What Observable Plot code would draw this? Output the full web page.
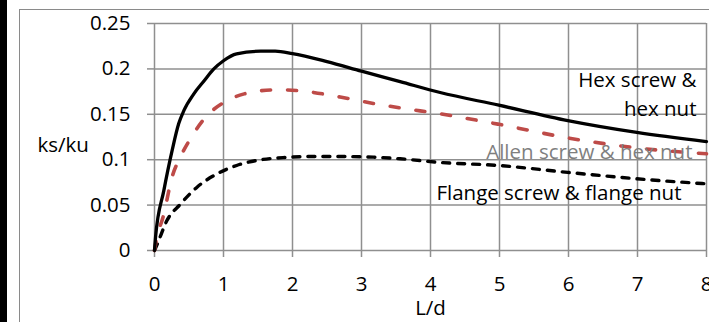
<!DOCTYPE html>
<html>
<head>
<meta charset="utf-8">
<script src="https://cdn.jsdelivr.net/npm/d3@7"></script>
<script src="https://cdn.jsdelivr.net/npm/@observablehq/plot@0.6"></script>
<style>
  html, body { margin: 0; padding: 0; background: #fff; }
  #wrap { position: relative; width: 709px; height: 322px; overflow: hidden; background: #fff; }
  #bar { position: absolute; left: 0; top: 0; width: 7px; height: 322px; background: #000; }
  #frame { position: absolute; left: 19px; top: 9px; width: 700px; height: 330px; border-left: 1.5px solid #8a8a8a; border-top: 1.5px solid #8a8a8a; }
  #chart { position: absolute; left: 0; top: 0; }
</style>
</head>
<body>
<div id="wrap"><div id="bar"></div><div id="frame"></div><div id="chart"></div></div>
<script>
// L/d values and ks/ku for each curve
const hexX    = [0, 0.015, 0.135, 0.255, 0.35, 0.425, 0.57, 0.72, 0.86, 1.0, 1.19, 1.54, 1.75, 2.0, 2.5, 3.0, 3.56, 4.14, 4.99, 5.99, 6.99, 8.0];
const hexY    = [0, 0.0147, 0.066, 0.110, 0.1395, 0.154, 0.1725, 0.187, 0.200, 0.209, 0.2166, 0.2195, 0.2195, 0.2168, 0.208, 0.1975, 0.186, 0.174, 0.16, 0.143, 0.130, 0.120];
const allenX  = [0, 0.015, 0.135, 0.255, 0.375, 0.52, 0.72, 1.05, 1.3, 1.54, 1.83, 2.21, 2.69, 3.17, 3.56, 4.14, 4.99, 5.99, 6.99, 8.0];
const allenY  = [0, 0.007, 0.040, 0.081, 0.103, 0.123, 0.145, 0.165, 0.1725, 0.176, 0.177, 0.175, 0.169, 0.162, 0.157, 0.1505, 0.139, 0.124, 0.113, 0.1065];
const flangeX = [0, 0.04, 0.18, 0.375, 0.62, 0.91, 1.19, 1.54, 1.9, 2.3, 2.7, 3.17, 3.56, 4.14, 4.99, 5.99, 6.99, 8.0];
const flangeY = [0, 0.007, 0.033, 0.051, 0.070, 0.0845, 0.0936, 0.0999, 0.1025, 0.1035, 0.1035, 0.1028, 0.101, 0.097, 0.0936, 0.086, 0.079, 0.0734];

const seriesNames = ["Hex screw &\nhex nut", "Allen screw & hex nut", "Flange screw & flange nut"];
const xTicks = [0, 1, 2, 3, 4, 5, 6, 7, 8];
const yTicks = [0, 0.05, 0.1, 0.15, 0.2, 0.25];
const yTickLabels = ["0", "0.05", "0.1", "0.15", "0.2", "0.25"];

const toRows = (xs, ys, name) => xs.map((x, i) => ({x, y: ys[i], s: name}));
const hex = toRows(hexX, hexY, seriesNames[0]);
const allen = toRows(allenX, allenY, seriesNames[1]);
const flange = toRows(flangeX, flangeY, seriesNames[2]);

const font = "'Open Sans', 'Noto Sans', sans-serif";
const grid = "#8f8f8f";
const fs = 20.5;

const chart = Plot.plot({
  width: 709,
  height: 322,
  marginLeft: 154,
  marginRight: 3,
  marginTop: 23,
  marginBottom: 72,
  style: {fontFamily: font, fontSize: fs + "px", color: "#000", background: "transparent", overflow: "visible"},
  x: {domain: [0, 8], ticks: xTicks},
  y: {domain: [0, 0.25], ticks: yTicks},
  marks: [
    Plot.gridX(xTicks, {stroke: grid, strokeOpacity: 1, strokeWidth: 1.5}),
    Plot.gridY(yTicks, {stroke: grid, strokeOpacity: 1, strokeWidth: 1.5}),
    Plot.axisX(xTicks, {tickSize: 7, tickPadding: 19, stroke: grid, strokeWidth: 1.5, tickFormat: d => String(d), fontSize: fs, label: null}),
    Plot.axisY(yTicks, {tickSize: 7, tickPadding: 17, stroke: grid, strokeWidth: 1.5, tickFormat: (d, i) => yTickLabels[i], fontSize: fs, label: null}),
    Plot.line(flange, {x: "x", y: "y", stroke: "#000", strokeWidth: 3.4, strokeDasharray: "7,8", strokeLinecap: "round", curve: "monotone-x"}),
    Plot.line(allen, {x: "x", y: "y", stroke: "#be4b48", strokeWidth: 3.6, strokeDasharray: "9,17", strokeLinecap: "round", curve: "monotone-x"}),
    Plot.line(hex, {x: "x", y: "y", stroke: "#000", strokeWidth: 3.3, curve: "monotone-x"}),
    Plot.text([hex[hex.length - 1]], {x: "x", y: "y", text: "s", textAnchor: "end", dx: -10, dy: -49, lineHeight: 1.4, fill: "#000", fontSize: fs}),
    Plot.text([allen[allen.length - 1]], {x: "x", y: "y", text: "s", textAnchor: "end", dx: -14, dy: -1, fill: "#7f7f7f", fontSize: fs}),
    Plot.text([flange[flange.length - 1]], {x: "x", y: "y", text: "s", textAnchor: "end", dx: -25, dy: 10, fill: "#000", fontSize: fs}),
    Plot.text(["ks/ku"], {frameAnchor: "left", text: d => d, textAnchor: "start", dx: -117, dy: 8, fill: "#000", fontSize: fs}),
    Plot.text(["L/d"], {frameAnchor: "bottom", text: d => d, dy: 64, fill: "#000", fontSize: fs})
  ]
});
document.getElementById("chart").appendChild(chart);
</script>
</body>
</html>
